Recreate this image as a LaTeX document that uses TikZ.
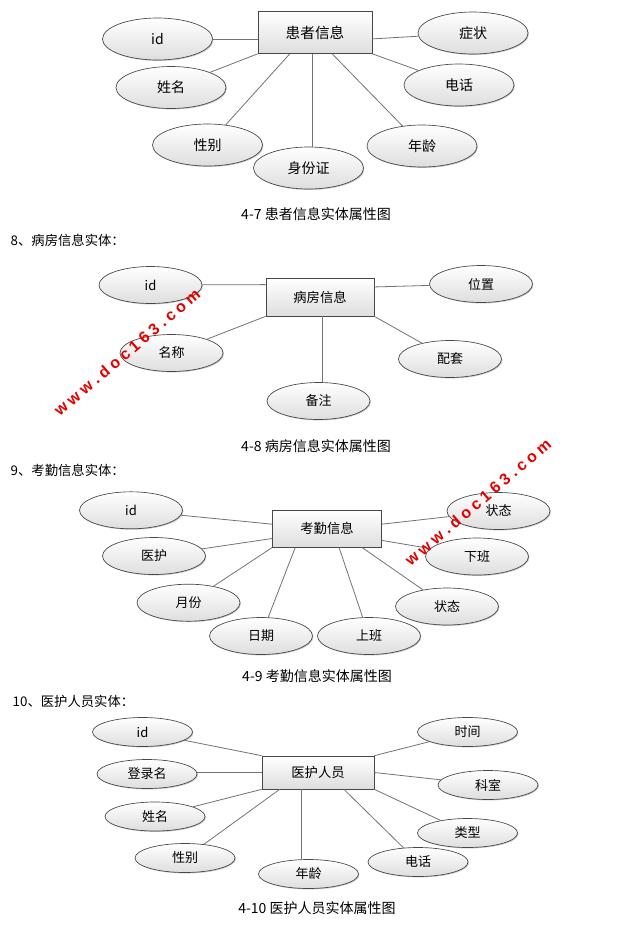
\documentclass[tikz,border=0pt]{standalone}
\usepackage{fontspec}
\setmainfont{Noto Sans CJK SC}
\newfontfamily\wmfont{Liberation Sans}
\usetikzlibrary{shapes.geometric,calc,shadows}
\newcommand\wmk{\kern3pt}
\newcommand\wmtext{\wmfont\bfseries w\wmk w\wmk w\wmk .\wmk d\wmk o\wmk c\wmk 1\wmk 6\wmk 3\wmk .\wmk c\wmk o\wmk m}
\begin{document}
\begin{tikzpicture}[x=0.75pt,y=-0.75pt,
  shd/.style={top color=white,bottom color=black!13,draw=black!72,line width=0.5pt,
    drop shadow={shadow xshift=0.7pt,shadow yshift=-0.7pt,opacity=0.22,fill=black}},
  attr/.style={shd,ellipse,inner sep=0pt},
  ent/.style={shd,rectangle,inner sep=0pt},
  aone/.style={attr,minimum width=82.5pt,minimum height=31.5pt,font=\fontsize{10.5pt}{12pt}\selectfont},
  atwo/.style={attr,minimum width=77.25pt,minimum height=27.75pt,font=\fontsize{9.75pt}{11pt}\selectfont},
  afour/.style={attr,minimum width=75pt,minimum height=21.75pt,font=\fontsize{9.75pt}{11pt}\selectfont},
  conn/.style={draw=black!55,line width=0.6pt},
  capt/.style={font=\fontsize{10.5pt}{12pt}\selectfont},
  head/.style={font=\fontsize{10pt}{12pt}\selectfont,anchor=west},
  wm/.style={text=red!90!black,font=\fontsize{12pt}{14pt}\selectfont,rotate=40.5,inner sep=0pt}]
\fill[white] (0,0) rectangle (626,925);
\useasboundingbox (0,0) rectangle (626,925);

% ---------- 4-7 ----------
\node[ent,minimum width=85.5pt,minimum height=31.5pt,font=\fontsize{11pt}{13pt}\selectfont] (b1) at (315,32.5) {患者信息};
\node[aone] (a1id) at (157.5,39) {id};
\node[aone] (a1zz) at (473,33) {症状};
\node[aone] (a1xm) at (171,87.5) {姓名};
\node[aone] (a1dh) at (459,85) {电话};
\node[aone] (a1xb) at (207.5,145) {性别};
\node[aone] (a1sf) at (308.5,168) {身份证};
\node[aone] (a1nl) at (422,146) {年龄};
\coordinate (p1l) at ($(b1.north west)!0.65!(b1.south west)$);
\coordinate (p1r) at ($(b1.north east)!0.65!(b1.south east)$);
\coordinate (p1a) at ($(b1.south west)!0.28!(b1.south east)$);
\coordinate (p1b) at ($(b1.south west)!0.48!(b1.south east)$);
\coordinate (p1c) at ($(b1.south west)!0.65!(b1.south east)$);
\draw[conn] (p1l) -- (p1l -| a1id.east);
\draw[conn] (p1r) -- (a1zz);
\draw[conn] (b1.south west) -- (a1xm);
\draw[conn] (b1.south east) -- (a1dh);
\draw[conn] (p1a) -- (a1xb);
\draw[conn] (p1b) -- (p1b |- a1sf.north);
\draw[conn] (p1c) -- (a1nl);
\node[capt] (c1) at (316,214) {4-7 患者信息实体属性图};

% ---------- 4-8 ----------
\node[head] (h2) at (6,240) {8、病房信息实体：};
\node[ent,minimum width=81pt,minimum height=28.5pt,font=\fontsize{10pt}{12pt}\selectfont] (b2) at (320,297) {病房信息};
\node[atwo] (a2id) at (150.5,285) {id};
\node[atwo] (a2wz) at (481,284) {位置};
\node[atwo] (a2mc) at (171.5,353) {名称};
\node[atwo] (a2pt) at (450,359) {配套};
\node[atwo] (a2bz) at (318.5,401) {备注};
\coordinate (p2l) at ($(b2.north west)!0.18!(b2.south west)$);
\coordinate (p2r) at ($(b2.north east)!0.24!(b2.south east)$);
\coordinate (p2b) at ($(b2.south west)!0.52!(b2.south east)$);
\draw[conn] (p2l) -- (a2id);
\draw[conn] (p2r) -- (a2wz);
\draw[conn] (b2.south west) -- (a2mc);
\draw[conn] (b2.south east) -- (a2pt);
\draw[conn] (p2b) -- (p2b |- a2bz.north);
\node[capt] (c2) at (316,446.5) {4-8 病房信息实体属性图};

% ---------- 4-9 ----------
\node[head] (h3) at (6,470) {9、考勤信息实体：};
\node[ent,minimum width=81.75pt,minimum height=27.75pt,font=\fontsize{10pt}{12pt}\selectfont] (b3) at (327,528.7) {考勤信息};
\node[atwo] (a3id) at (131,510.3) {id};
\node[atwo] (a3yh) at (154,556) {医护};
\node[atwo] (a3yf) at (188.5,602.7) {月份};
\node[atwo] (a3rq) at (261,636) {日期};
\node[atwo] (a3sb) at (369,636) {上班};
\node[atwo] (a3zl) at (447,606.5) {状态};
\node[atwo] (a3xb) at (477,556.5) {下班};
\node[atwo] (a3zu) at (498.5,511) {状态};
\coordinate (p3l1) at ($(b3.north west)!0.38!(b3.south west)$);
\coordinate (p3l2) at ($(b3.north west)!0.76!(b3.south west)$);
\coordinate (p3b1) at ($(b3.south west)!0.21!(b3.south east)$);
\coordinate (p3b2) at ($(b3.south west)!0.61!(b3.south east)$);
\coordinate (p3b3) at ($(b3.south west)!0.82!(b3.south east)$);
\coordinate (p3r1) at ($(b3.north east)!0.38!(b3.south east)$);
\coordinate (p3r2) at ($(b3.north east)!0.81!(b3.south east)$);
\draw[conn] (p3l1) -- (a3id);
\draw[conn] (p3l2) -- (a3yh);
\draw[conn] (b3.south west) -- (a3yf);
\draw[conn] (p3b1) -- (a3rq);
\draw[conn] (p3b2) -- (a3sb);
\draw[conn] (p3b3) -- (a3zl);
\draw[conn] (p3r2) -- (a3xb);
\draw[conn] (p3r1) -- (a3zu);
\node[capt] (c3) at (317,676.5) {4-9 考勤信息实体属性图};

% ---------- 4-10 ----------
\node[head] (h4) at (8,701.5) {10、医护人员实体：};
\node[ent,minimum width=84pt,minimum height=24.75pt,font=\fontsize{10pt}{12pt}\selectfont] (b4) at (318,772.5) {医护人员};
\node[afour] (a4id) at (142.5,732) {id};
\node[afour] (a4dl) at (147,774) {登录名};
\node[afour] (a4xm) at (155,816.5) {姓名};
\node[afour] (a4xb) at (185,858) {性别};
\node[afour] (a4nl) at (308.5,874) {年龄};
\node[afour] (a4dh) at (418,862) {电话};
\node[afour] (a4lx) at (467.5,833) {类型};
\node[afour] (a4ks) at (488,785) {科室};
\node[afour] (a4sj) at (467.5,732) {时间};
\coordinate (p4b1) at ($(b4.south west)!0.16!(b4.south east)$);
\coordinate (p4b2) at ($(b4.south west)!0.35!(b4.south east)$);
\coordinate (p4b3) at ($(b4.south west)!0.73!(b4.south east)$);
\draw[conn] (b4.north west) -- (a4id);
\draw[conn,line width=1pt] (b4.west) -- (b4.west -| a4dl.east);
\draw[conn] (b4.south west) -- (a4xm);
\draw[conn] (p4b1) -- (a4xb);
\draw[conn] (p4b2) -- (p4b2 |- a4nl.north);
\draw[conn] (p4b3) -- (a4dh);
\draw[conn] (b4.south east) -- (a4lx);
\draw[conn] (b4.east) -- (a4ks);
\draw[conn] (b4.north east) -- (a4sj);
\node[capt] (c4) at (317,908) {4-10 医护人员实体属性图};

% ---------- watermarks ----------
\node[wm] (wm1) at (127,352) {\wmtext};
\node[wm] (wm2) at (478,502) {\wmtext};
\end{tikzpicture}
\end{document}
